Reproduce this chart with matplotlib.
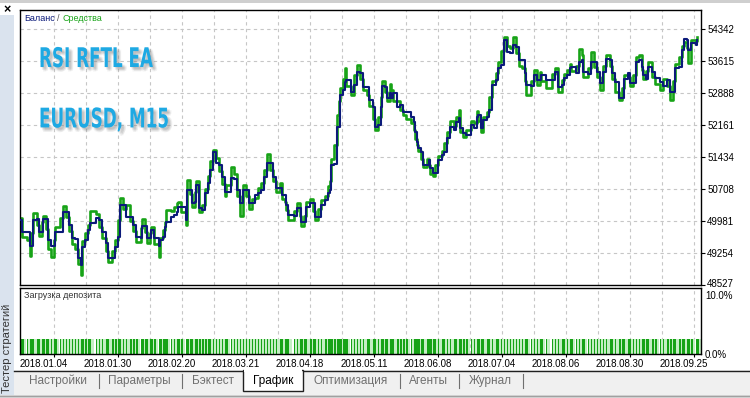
import matplotlib
matplotlib.use("Agg")
import matplotlib.pyplot as plt
import matplotlib.patheffects as pe
from matplotlib.patches import Rectangle
from matplotlib.transforms import ScaledTranslation, Affine2D
from matplotlib.colors import to_rgb

# =====================================================
# データ (テスター結果: 残高 / 有効証拠金)
# =====================================================
deal_no = [0, 1, 4, 6, 7, 8, 11, 12, 14, 15, 17, 18, 20, 22, 23, 26, 28, 30, 32, 34,
           36, 38, 40, 41, 43, 45, 46, 50, 52, 54, 57, 58, 61, 63, 65, 66, 68, 70, 73, 75,
           77, 80, 81, 83, 84, 86, 87, 89, 92, 93, 95, 96, 97, 100, 102, 104, 105, 107, 110, 111,
           113, 114, 116, 117, 119, 121, 123, 125, 126, 128, 130, 132, 134, 136, 137, 140, 142, 144, 146, 148,
           150, 152, 154, 156, 158, 160, 162, 164, 166, 168, 170, 173, 174, 176, 177, 178, 182, 184, 186, 187,
           189, 190, 193, 195, 196, 198, 200, 203, 205, 206, 207, 209, 211, 212, 213, 215, 216, 217, 220, 222,
           224, 226, 228, 231, 232, 235, 236, 238, 240, 241, 243, 244, 246, 247, 248, 251, 253, 255, 257, 260,
           262, 263, 264, 265, 267, 268, 271, 272, 273, 275, 276, 278, 281, 282, 284, 286, 289, 290, 292, 293,
           295, 297, 300, 302, 304, 305, 307, 308, 311, 312, 314, 317, 318, 320, 322, 324, 326, 328, 330, 332,
           334, 336, 337, 340, 342, 344, 346, 347, 350, 354, 356, 358, 361, 362, 364, 366, 367, 370, 372, 374,
           375, 378, 380, 382, 384, 386, 388, 390, 393, 394, 396, 399, 401, 402, 405, 406, 408, 410, 412, 414,
           415, 417, 418, 421, 423, 426, 428, 431, 433, 435, 436, 439, 441, 442, 444, 445, 447, 450, 451]

balance = [50003, 49738, 49738, 49413, 49413, 50003, 50026, 49738, 49738, 50026, 50026, 49549, 49413, 49413, 49738, 49738, 50192, 50192, 49890, 49588,
           49565, 49133, 48981, 49397, 49549, 49776, 49928, 50042, 50003, 49738, 49474, 49133, 49133, 49397, 49624, 50344, 50344, 50079, 50079, 49890,
           49624, 49588, 49867, 49867, 49588, 49588, 49776, 49588, 49413, 49549, 49624, 49852, 49965, 50079, 50117, 50192, 50306, 50306, 50003, 50685,
           50685, 50382, 50419, 50799, 50268, 50231, 50610, 50837, 51139, 51555, 51291, 51253, 50987, 50648, 50648, 50950, 50928, 50685, 50382, 50685,
           50685, 50382, 50382, 50571, 50610, 50685, 50987, 51291, 51291, 50987, 50723, 50723, 50571, 50571, 50344, 50117, 50094, 50268, 50268, 49965,
           49965, 50306, 50382, 50382, 50079, 50079, 50344, 50458, 50610, 50685, 51253, 51276, 52123, 52123, 52843, 52956, 53145, 53184, 52918, 53070,
           53372, 53335, 53031, 53031, 52729, 52577, 52123, 52161, 52577, 53047, 53031, 52767, 52895, 52767, 52880, 52577, 52615, 52464, 52464, 52350,
           52237, 52010, 51783, 51632, 51555, 51253, 51253, 51366, 51177, 51064, 51064, 51366, 51480, 51555, 51858, 52123, 52048, 52237, 52313, 52086,
           51972, 51934, 52161, 52086, 52350, 52388, 52086, 52275, 52350, 52502, 53070, 53184, 53449, 53524, 54092, 53826, 53789, 53978, 53940, 53638,
           53638, 53335, 53070, 53047, 53297, 53184, 53184, 53297, 53184, 53184, 53372, 53031, 53070, 53221, 53297, 53449, 53487, 53335, 53600, 53638,
           53372, 53320, 53600, 53600, 53372, 53108, 53372, 53653, 53638, 53335, 53145, 52767, 52767, 53199, 53350, 53123, 53108, 53600, 53638, 53487,
           53297, 53199, 53487, 53372, 53221, 53145, 53047, 53184, 52918, 52918, 53449, 53487, 53865, 54107, 54092, 53865, 54016, 53978, 54092]

equity = [50050, 49620, 49560, 49190, 49700, 50160, 49900, 49640, 49950, 50100, 49800, 49350, 49160, 49560, 49850, 50050, 50320, 50080, 49760, 49450,
          49350, 49000, 48760, 49520, 49700, 49900, 50200, 50150, 49850, 49600, 49300, 49050, 49300, 49550, 50000, 50500, 50250, 50350, 49980, 49760,
          49500, 49820, 50030, 49720, 49480, 49700, 49850, 49460, 49160, 49600, 49780, 49950, 50220, 50200, 50300, 50380, 50420, 50180, 49890, 50910,
          50600, 50300, 50650, 50900, 50180, 50350, 50700, 51000, 51350, 51600, 51420, 51120, 50820, 50560, 50800, 51200, 51050, 50560, 50100, 50800,
          50560, 50250, 50480, 50500, 50720, 50850, 51150, 51500, 51150, 50880, 50640, 50850, 50480, 50420, 50230, 50000, 50200, 50380, 50100, 49860,
          50100, 50420, 50480, 50200, 50000, 50250, 50460, 50560, 50780, 50900, 51400, 51700, 52400, 52700, 53000, 53200, 53450, 53050, 52850, 53300,
          53520, 53200, 52950, 52850, 52600, 52300, 52050, 52350, 52800, 53150, 52900, 52700, 53100, 52950, 52700, 52700, 52500, 52380, 52300, 52200,
          52050, 51850, 51700, 51560, 51400, 51200, 51380, 51250, 51050, 51000, 51250, 51450, 51560, 51750, 52000, 52250, 52150, 52350, 52500, 52000,
          51900, 52050, 52250, 52200, 52470, 52250, 52000, 52350, 52450, 52800, 53150, 53350, 53600, 53850, 54170, 53950, 53900, 54150, 53800, 53500,
          53450, 53150, 52850, 53150, 53400, 53080, 53370, 53150, 53000, 53320, 53450, 52920, 53180, 53330, 53400, 53550, 53380, 53500, 53880, 53750,
          53250, 53450, 53820, 53470, 53250, 52960, 53500, 53760, 53500, 53200, 52900, 52720, 53000, 53300, 53250, 53050, 53300, 53710, 53750, 53400,
          53200, 53380, 53600, 53260, 53100, 52960, 53200, 53050, 52730, 53150, 53550, 53700, 53950, 54050, 53900, 53560, 54100, 54080, 54150]

y_ticks = [48527, 49254, 49981, 50708, 51434, 52161, 52888, 53615, 54342]
date_labels = ["2018.01.04", "2018.01.30", "2018.02.20", "2018.03.21", "2018.04.18", "2018.05.11",
               "2018.06.08", "2018.07.04", "2018.08.06", "2018.08.30", "2018.09.25"]

# 証拠金負荷 (%) : どのバーもほぼ同じ高さ
load_deal = deal_no
load_pct = [2.2] * len(deal_no)

tabs = ["Настройки", "Параметры", "Бэктест", "График", "Оптимизация", "Агенты", "Журнал"]


class CondensedShadow(pe.AbstractPathEffect):
    """文字を横方向に縮めて、ぼかし風の影を付ける"""

    def __init__(self, sx, shadows):
        super().__init__()
        self.sx = sx
        self.shadows = shadows

    def draw_path(self, renderer, gc, tpath, affine, rgbFace=None):
        base = Affine2D().scale(self.sx, 1.0) + affine
        for dx, dy, col, a in self.shadows:
            gc0 = renderer.new_gc()
            gc0.copy_properties(gc)
            gc0.set_alpha(a)
            off = base + Affine2D().translate(dx, -dy)
            renderer.draw_path(gc0, tpath, off, to_rgb(col))
            gc0.restore()
        renderer.draw_path(gc, tpath, base, rgbFace)


# =====================================================
# 描画
# =====================================================
W, H = 750, 398
NAVY = "#0b1a7a"
GREEN = "#17a317"
PALE = "#c4eec4"
CYAN = "#1ea9e3"
GRID = "#c6c6c6"
plt.rcParams["font.family"] = ["Liberation Sans", "DejaVu Sans"]

fig = plt.figure(figsize=(W / 100, H / 100), dpi=100)

# 背景 (ピクセル座標)
bg = fig.add_axes([0, 0, 1, 1])
bg.set_xlim(0, W)
bg.set_ylim(H, 0)
bg.axis("off")
bg.add_patch(Rectangle((0, 0), W, 3, color="#cfcfcf", lw=0))
bg.add_patch(Rectangle((0, 15), 14, 381, color="#dae3ee", lw=0))
bg.add_patch(Rectangle((14, 370), W - 14, 25, color="#f0f0f0", lw=0))
bg.add_patch(Rectangle((0, 395), W, 3, color="#dcdcdc", lw=0))
bg.plot([0, W], [395.5, 395.5], color="#a0a0a0", lw=1)
bg.plot([14, W], [370.5, 370.5], color="#202020", lw=1)
bg.text(7, 10, "×", fontsize=9, fontweight="bold", ha="center", va="center")
bg.text(7.5, 348, "Тестер стратегий", rotation=90, fontsize=8, color="#333333",
        ha="center", va="center")

# タブ
tab_x = [58, 139, 213, 273, 351, 428, 490]
for name, x in zip(tabs, tab_x):
    if name == "График":
        bg.add_patch(Rectangle((243, 370), 60, 21, facecolor="white",
                               edgecolor="#202020", lw=1, zorder=3))
        bg.add_patch(Rectangle((244, 369), 58, 3, facecolor="white", lw=0, zorder=4))
        bg.text(x, 381, name, fontsize=8.5, color="black", ha="center", va="center", zorder=5)
    else:
        bg.text(x, 381, name, fontsize=8.5, color="#707070", ha="center", va="center")
for x in [99, 182, 400, 459, 523]:
    bg.plot([x, x], [374, 388], color="#707070", lw=0.8)

# -------------------------------
# 上：残高 / 有効証拠金
# -------------------------------
ax = fig.add_axes([20 / W, 1 - 285 / H, 681 / W, 275 / H])
ax.set_xlim(-0.47, 453.5)
ax.set_ylim(48527, 54774)
grid_u = [21.87 + 21.333 * k for k in range(21)]
for u in grid_u:
    ax.axvline(u, color=GRID, lw=0.8, ls=(0, (3, 3)), zorder=0)
for v in y_ticks[1:]:
    ax.axhline(v, color=GRID, lw=0.8, ls=(0, (3, 3)), zorder=0)

ax.plot(deal_no, equity, color=GREEN, lw=1.9, drawstyle="steps-post", zorder=2)
ax.plot(deal_no, balance, color=NAVY, lw=1.5, drawstyle="steps-post", zorder=3)

ax.set_xticks([])
ax.yaxis.tick_right()
ax.set_yticks(y_ticks)
ax.set_yticklabels([str(v) for v in y_ticks])
ax.tick_params(axis="y", length=3, width=0.8, pad=1.5, labelsize=7)
up = ScaledTranslation(0, 2 / 100, fig.dpi_scale_trans)
lbl0 = ax.get_yticklabels()[0]
lbl0.set_transform(lbl0.get_transform() + up)
for s in ax.spines.values():
    s.set_linewidth(1.0)

ax.text(0.006, 0.97, "Баланс", transform=ax.transAxes, fontsize=6.5, color=NAVY, va="center")
ax.text(0.054, 0.97, "/", transform=ax.transAxes, fontsize=6.5, color="#555555", va="center")
ax.text(0.063, 0.97, "Средства", transform=ax.transAxes, fontsize=6.5, color=GREEN, va="center")

shadow_set = [(dx, dy, "#8c8c8c", 0.10)
              for dx, dy in [(1, 1), (2, 2), (3, 3), (4, 4), (3, 1.5), (1.5, 3), (4.5, 2.5), (2.5, 4.5)]]
title_fx = [CondensedShadow(0.62, shadow_set)]
ax.text(0.0279, 0.7927, "RSI RFTL EA", transform=ax.transAxes, fontsize=19.5, fontweight="bold",
        color=CYAN, family="DejaVu Sans", va="baseline", path_effects=title_fx)
ax.text(0.0279, 0.573, "EURUSD, M15", transform=ax.transAxes, fontsize=19.5, fontweight="bold",
        color=CYAN, family="DejaVu Sans", va="baseline", path_effects=title_fx)

# -------------------------------
# 下：証拠金負荷
# -------------------------------
ax2 = fig.add_axes([20 / W, 1 - 354 / H, 681 / W, 66 / H])
ax2.set_xlim(-0.47, 453.5)
ax2.set_ylim(0, 10)
for u in grid_u:
    ax2.axvline(u, color=GRID, lw=0.8, ls=(0, (3, 3)), zorder=0)
ax2.bar(load_deal, load_pct, width=2.6, color=PALE, zorder=1, align="edge")
ax2.bar(load_deal, load_pct, width=1.1, color=GREEN, zorder=2, align="edge")
ax2.set_yticks([])
ax2.set_xticks(grid_u[::2])
ax2.set_xticklabels(date_labels)
ax2.tick_params(axis="x", length=2, width=0.8, pad=1.5, labelsize=7)
shift = ScaledTranslation(-9.5 / 100, 0, fig.dpi_scale_trans)
for lbl in ax2.get_xticklabels():
    lbl.set_transform(lbl.get_transform() + shift)
for s in ax2.spines.values():
    s.set_linewidth(1.0)
ax2.text(0.006, 0.88, "Загрузка депозита", transform=ax2.transAxes, fontsize=6.5,
         color="#333333", va="center")
ax2.text(1.006, 0.955, "10.0%", transform=ax2.transAxes, fontsize=7, va="top")
ax2.text(1.006, -0.02, "0.0%", transform=ax2.transAxes, fontsize=7, va="center")

fig.savefig("out.png", dpi=100)
